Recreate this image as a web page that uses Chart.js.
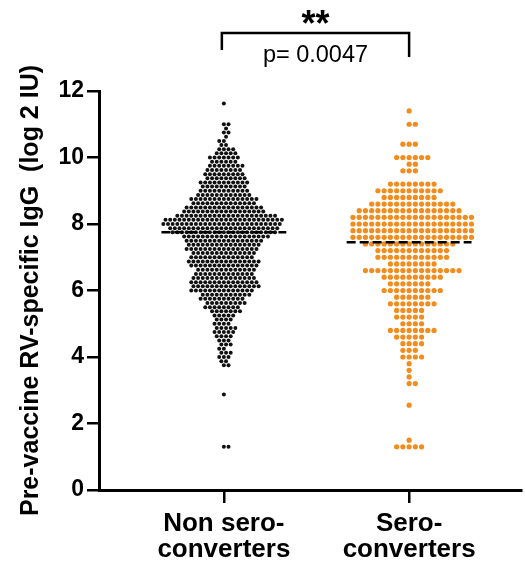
<!DOCTYPE html>
<html>
<head>
<meta charset="utf-8">
<script src="https://cdn.jsdelivr.net/npm/chart.js@4.4.0/dist/chart.umd.min.js"></script>
<style>
  html, body { margin: 0; padding: 0; background: #fff; }
</style>
</head>
<body>
<canvas id="swarmChart" width="525" height="563"></canvas>
<script>
const categories = [['Non sero-', 'converters'], ['Sero-', 'converters']];
const yTitle = 'Pre-vaccine RV-specific IgG  (log 2 IU)';
const yTicks = [0, 2, 4, 6, 8, 10, 12];

const nonSeroLevels = [1.3, 2.875, 3.75, 3.875, 4.0, 4.125, 4.25, 4.375, 4.5, 4.625, 4.75, 4.875,
  5.0, 5.125, 5.25, 5.375, 5.5, 5.625, 5.75, 5.875, 6.0, 6.125, 6.25, 6.375, 6.5, 6.625, 6.75, 6.875,
  7.0, 7.125, 7.25, 7.375, 7.5, 7.625, 7.75, 7.875, 8.0, 8.125, 8.25, 8.375, 8.5, 8.625, 8.75, 8.875,
  9.0, 9.125, 9.25, 9.375, 9.5, 9.625, 9.75, 9.875, 10.0, 10.125, 10.25, 10.375, 10.5, 10.625, 10.75,
  10.875, 11.0, 11.625];
const nonSeroCounts = [2, 1, 2, 2, 3, 3, 2, 3, 3, 4, 5, 5,
  4, 4, 5, 7, 8, 9, 10, 11, 14, 15, 15, 14, 13, 13, 15, 16,
  14, 14, 16, 16, 17, 19, 23, 24, 26, 26, 22, 18, 17, 14, 15, 12,
  11, 10, 11, 9, 9, 8, 8, 6, 7, 5, 4, 2, 2, 1, 2,
  1, 2, 1];

const seroLevels = [1.3, 1.5, 2.55, 3.2, 3.4, 3.6, 3.8, 4.0, 4.2, 4.4, 4.6, 4.8, 5.0, 5.2, 5.4, 5.6,
  5.8, 6.0, 6.2, 6.4, 6.6, 6.8, 7.0, 7.2, 7.4, 7.6, 7.8, 8.0, 8.2, 8.4, 8.6, 8.8, 9.0, 9.2, 9.6, 9.8,
  10.0, 10.4, 11.0, 11.4];
const seroCounts = [5, 1, 1, 2, 1, 1, 1, 4, 3, 4, 5, 8, 4, 5, 5, 8,
  6, 10, 7, 10, 16, 8, 12, 12, 15, 20, 20, 20, 20, 17, 14, 9, 11, 8, 3, 2,
  6, 3, 2, 1];

const medians = [7.75, 7.45];

const FONT = "'Liberation Sans', Arial, sans-serif";

function expand(levels, counts) {
  const out = [];
  levels.forEach((lvl, i) => {
    for (let k = 0; k < counts[i]; k++) out.push(lvl);
  });
  return out;
}

// simple beeswarm: each point goes to the free spot closest to the centre line
function swarm(values, center, diam, xs, ys) {
  const pxPerX = xs.getPixelForValue(2) - xs.getPixelForValue(1);
  const placed = [];
  return values.slice().sort((a, b) => a - b).map(v => {
    const py = ys.getPixelForValue(v);
    const near = placed.filter(p => Math.abs(p.py - py) < diam);
    const cands = [0];
    near.forEach(p => {
      const gap = Math.sqrt(diam * diam - (p.py - py) ** 2);
      cands.push(p.dx + gap, p.dx - gap);
    });
    cands.sort((a, b) => Math.abs(a) - Math.abs(b));
    const dx = cands.find(c => near.every(p => (p.dx - c) ** 2 + (p.py - py) ** 2 >= diam * diam - 0.05));
    placed.push({ dx, py });
    return { x: center + dx / pxPerX, y: v };
  });
}

const bracketPlugin = {
  id: 'bracket',
  afterDraw(chart) {
    const ctx = chart.ctx;
    const x1 = chart.scales.x.getPixelForValue(1) - 2;
    const x2 = chart.scales.x.getPixelForValue(2);
    const top = 33;
    ctx.save();
    ctx.strokeStyle = '#000';
    ctx.lineWidth = 2.5;
    ctx.beginPath();
    ctx.moveTo(x1, 50);
    ctx.lineTo(x1, top);
    ctx.lineTo(x2, top);
    ctx.lineTo(x2, 57);
    ctx.stroke();
    const mid = (x1 + x2) / 2;
    ctx.fillStyle = '#000';
    ctx.textAlign = 'center';
    ctx.textBaseline = 'alphabetic';
    ctx.font = 'bold 36px ' + FONT;
    ctx.fillText('**', mid, 36);
    ctx.font = '23.5px ' + FONT;
    ctx.fillText('p= 0.0047', mid, 62);
    ctx.restore();
  }
};

const axisBorder = { display: true, color: '#000', width: 3 };

const ctx = document.getElementById('swarmChart').getContext('2d');
const chart = new Chart(ctx, {
  type: 'scatter',
  data: {
    datasets: [
      {
        type: 'line',
        data: [{ x: 0.663, y: medians[0] }, { x: 1.337, y: medians[0] }],
        borderColor: '#000', borderWidth: 2.5, borderDash: [9, 4], pointRadius: 0, order: 0
      },
      {
        type: 'line',
        data: [{ x: 1.663, y: medians[1] }, { x: 2.337, y: medians[1] }],
        borderColor: '#000', borderWidth: 2.5, borderDash: [9, 4], pointRadius: 0, order: 0
      },
      {
        label: 'Non sero-converters',
        data: [],
        pointRadius: 2.0, pointBorderWidth: 0,
        backgroundColor: '#111', order: 1
      },
      {
        label: 'Sero-converters',
        data: [],
        pointRadius: 2.6, pointBorderWidth: 0,
        backgroundColor: '#F28C1C', order: 1
      }
    ]
  },
  options: {
    responsive: false,
    animation: false,
    layout: { padding: { top: 91, right: 0, left: 0, bottom: 0 } },
    plugins: { legend: { display: false }, tooltip: { enabled: false } },
    scales: {
      x: {
        type: 'linear', min: 0.326, max: 2.604,
        afterBuildTicks: s => { s.ticks = [{ value: 1 }, { value: 2 }]; },
        afterFit: s => { s.height = 73; },
        ticks: {
          callback: v => categories[v - 1],
          font: { weight: 'bold', size: 26, family: FONT, lineHeight: 1 },
          color: '#000', padding: 8, maxRotation: 0, autoSkip: false
        },
        grid: { drawOnChartArea: false, drawTicks: true, tickLength: 13, color: '#000', lineWidth: 2.5 },
        border: axisBorder
      },
      y: {
        min: 0, max: 12,
        afterBuildTicks: s => { s.ticks = yTicks.map(v => ({ value: v })); },
        afterFit: s => { s.width = 99; },
        ticks: { font: { weight: 'bold', size: 23, family: FONT }, color: '#000', padding: 3 },
        grid: { drawOnChartArea: false, drawTicks: true, tickLength: 12, color: '#000', lineWidth: 2.5 },
        border: axisBorder,
        title: {
          display: true, text: yTitle, color: '#000',
          font: { weight: 'bold', size: 25, family: FONT, lineHeight: 1.2 },
          padding: { top: 16, bottom: 0 }
        }
      }
    }
  },
  plugins: [bracketPlugin]
});

const xs = chart.scales.x, ys = chart.scales.y;
chart.data.datasets[2].data = swarm(expand(nonSeroLevels, nonSeroCounts), 1, 4.7, xs, ys);
chart.data.datasets[3].data = swarm(expand(seroLevels, seroCounts), 2, 6.3, xs, ys);
chart.update('none');
</script>
</body>
</html>
